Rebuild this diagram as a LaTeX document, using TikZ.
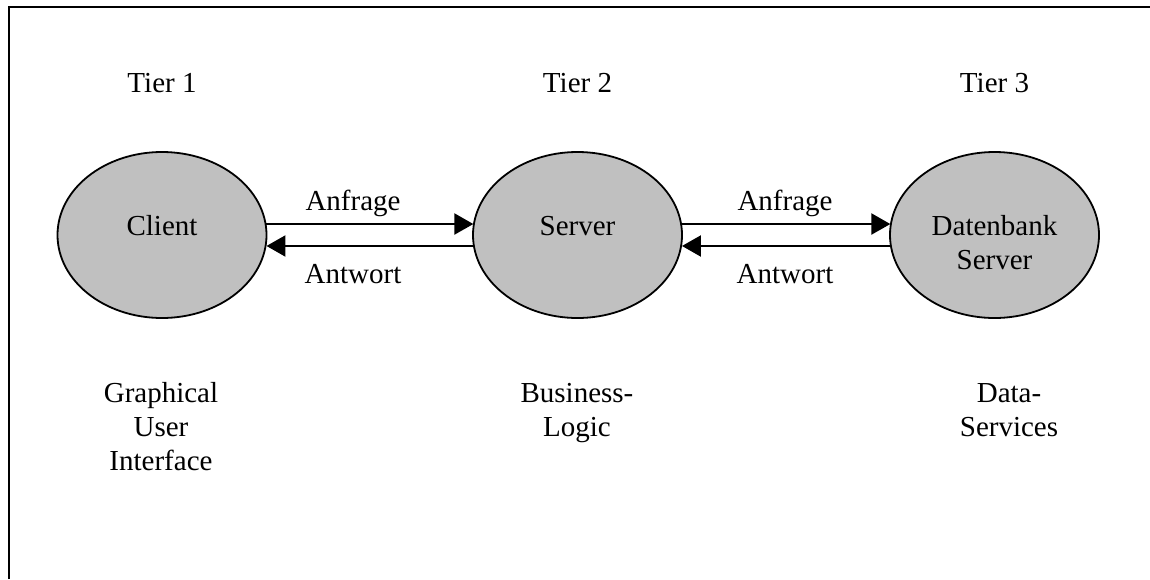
\documentclass[tikz,border=0pt]{standalone}
\usepackage{fontspec}
\setmainfont{Liberation Serif}
\usetikzlibrary{arrows.meta,shapes.geometric}
\definecolor{tierfill}{RGB}{192,192,192}
\begin{document}
\begin{tikzpicture}[x=1pt,y=-1pt,
  font=\fontsize{29}{34}\selectfont,
  tierbox/.style={ellipse, draw, line width=1.8pt, fill=tierfill,
    minimum width=209pt, minimum height=166pt, inner sep=0pt,
    text height=15pt, text depth=15pt, align=center},
  flow/.style={line width=2.3pt, -{Triangle[length=19pt,width=21pt]}},
  caption/.style={anchor=base, align=center},
  frameline/.style={line width=2.5pt}]
\useasboundingbox (0,0) rectangle (1150,579);

% outer frame (left and top edges)
\draw[frameline] (9,579) -- (9,7) -- (1150,7);

% tier headings
\node[caption] (tier1) at (162,92) {Tier 1};
\node[caption] (tier2) at (577.5,92) {Tier 2};
\node[caption] (tier3) at (994.5,92) {Tier 3};

% the three tiers (baseline of the last line sits 34pt below the centre
% for the two-line label, so that its first line matches the others)
\node[tierbox] (client) at (162,235) {Client};
\node[tierbox] (server) at (577.5,235) {Server};
\node[tierbox, text height=83pt, text depth=15pt] (db) at (994.5,235) {Datenbank\\Server};

% request / response arrows
\draw[flow] (client.6.6) -- (server.173.4 |- client.6.6);
\draw[flow] (server.186.6) -- (client.-6.6 |- server.186.6);
\draw[flow] (server.6.6) -- (db.173.4 |- server.6.6);
\draw[flow] (db.186.6) -- (server.-6.6 |- db.186.6);

\node[caption] (req1) at (353,210) {Anfrage};
\node[caption] (res1) at (353,283) {Antwort};
\node[caption] (req2) at (785,210) {Anfrage};
\node[caption] (res2) at (785,283) {Antwort};

% layer descriptions (anchored at the baseline of their last line)
\node[caption] (gui) at (161,470) {Graphical\\User\\Interface};
\node[caption] (logic) at (577,436) {Business-\\Logic};
\node[caption] (data) at (1009,436) {Data-\\Services};
\end{tikzpicture}
\end{document}
